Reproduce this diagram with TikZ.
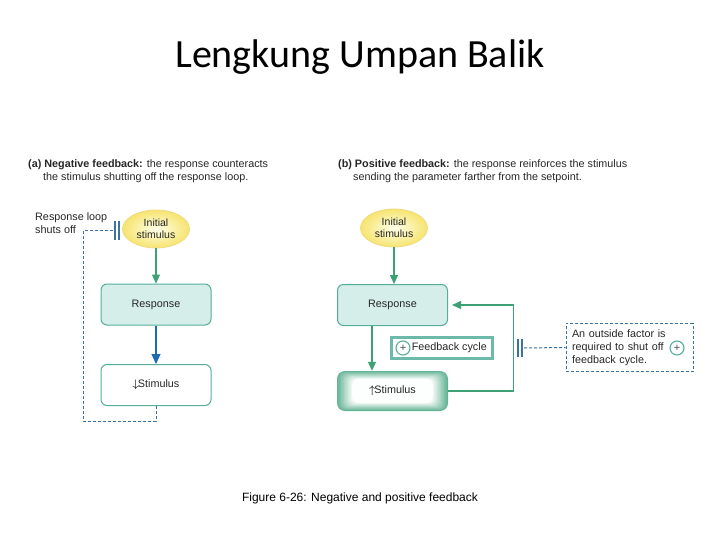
\documentclass[tikz,border=0pt]{standalone}
\usepackage{amsmath}
\usepackage{fontspec}
\setmainfont{Liberation Sans}
\newfontfamily\titlefont{Carlito}
\usetikzlibrary{arrows.meta,shapes,positioning,calc}

\definecolor{tealline}{HTML}{55AE9B}
\definecolor{respfill}{HTML}{D5EEE9}
\definecolor{flowgreen}{HTML}{3DA173}
\definecolor{flowblue}{HTML}{1D6AAE}
\definecolor{dashblue}{HTML}{3A72A4}
\definecolor{stimyellow}{HTML}{F6E46E}
\definecolor{stimline}{HTML}{EEDB86}
\definecolor{stimgreen}{HTML}{62B394}

\tikzset{
  initial/.style={ellipse,draw=stimline,line width=0.8pt,inner color=yellow!8,outer color=stimyellow,
    minimum width=67pt,minimum height=38pt,inner sep=0pt,align=center,font=\fontsize{10.5}{12}\selectfont},
  respbox/.style={draw=tealline,line width=1pt,rounded corners=6pt,minimum width=110pt,minimum height=41pt},
  flow/.style={flowgreen,line width=1.2pt,-{Triangle[length=9pt,width=8pt]}},
  shut/.style={dashblue,line width=1pt,dash pattern=on 3pt off 2pt},
  cutbar/.style={dashblue,line width=1.1pt},
  plus/.style={circle,draw=tealline,line width=1.1pt,text=black!70,minimum size=14pt,inner sep=0pt,font=\fontsize{11}{11}\selectfont}
}

\begin{document}
\begin{tikzpicture}[x=1pt,y=-1pt,font=\fontsize{10.8}{13}\selectfont,text=black!85]
  \useasboundingbox (0,0) rectangle (720,540);

  % Title
  \node[anchor=base,font=\titlefont\fontsize{40}{46}\selectfont,text=black] (title) at (360,68) {Lengkung Umpan Balik};

  % (a) negative feedback
  \node[anchor=north west,inner sep=0pt,align=left] (headA) at (28,159)
    {\textbf{(a) Negative feedback:} the response counteracts\\\hspace*{15pt}the stimulus shutting off the response loop.};
  \node[initial] (initA) at (156,229) {Initial\\stimulus};
  \node[respbox,fill=respfill] (respA) at (156,304.5) {Response};
  \node[respbox,fill=white] (stimA) at (156,385) {$\boldsymbol{\downarrow}$\hspace{-1pt}Stimulus};
  \node[anchor=north west,inner sep=0pt,align=left] (offA) at (35,212) {Response loop\\shuts off};
  \coordinate (cutA) at (113,231);

  \draw[flow] (initA) -- (respA);
  \draw[flowblue,line width=1.2pt,-{Triangle[length=10pt,width=9pt]}] (respA) -- (stimA);
  \draw[shut] (stimA.south) -- ++(0,15) -| (83,231) -- (cutA);
  \draw[cutbar] ($(cutA)+(2,-10)$) -- ++(0,19);
  \draw[cutbar] ($(cutA)+(6,-10)$) -- ++(0,19);

  % (b) positive feedback
  \node[anchor=north west,inner sep=0pt,align=left] (headB) at (338,159)
    {\textbf{(b) Positive feedback:} the response reinforces the stimulus\\\hspace*{15pt}sending the parameter farther from the setpoint.};
  \node[initial] (initB) at (394,228) {Initial\\stimulus};
  \node[respbox,fill=respfill] (respB) at (392.5,305) {Response};
  \node[rounded corners=8pt,fill=stimgreen,minimum width=111pt,minimum height=40pt] (stimB) at (392.5,391) {};
  \foreach \k [evaluate=\k as \pct using 100-\k*9] in {1,...,11}
    \fill[stimgreen!\pct!white,rounded corners=6pt] ($(stimB.south west)+(\k*1.4,-\k*0.75)$) rectangle ($(stimB.north east)+(-\k*1.4,\k*0.75)$);
  \node (stimBtxt) at (stimB.center) {$\boldsymbol{\uparrow}$\hspace{-1pt}Stimulus};

  \node[draw=tealline!85,line width=3pt,minimum width=101pt,minimum height=21pt] (cycle) at (442,348) {};
  \node[plus] (plusB) at (403,348) {+};
  \node[anchor=west,inner sep=1pt] (cycletxt) at (plusB.east) {Feedback cycle};

  \node[draw=dashblue,line width=1pt,dash pattern=on 3pt off 2pt,minimum width=127pt,minimum height=45pt,
    text width=115pt,inner sep=6pt,align=left] (outside) at (629.5,347.5)
    {An outside factor is\\required to shut off\\feedback cycle.};
  \node[plus] (plusOut) at (677,348) {+};
  \coordinate (cutB) at (518,348);

  \draw[flow] (initB) -- (initB |- respB.north);
  \draw[flow] ($(respB.south)+(-20.5,0)$) -- ($(stimB.north)+(-20.5,0)$);
  \draw[flow,shorten >=4pt] (stimB.east) -- ++(65,0) |- (respB.east);
  \draw[cutbar] ($(cutB)+(0,-9)$) -- ++(0,18);
  \draw[cutbar] ($(cutB)+(4,-9)$) -- ++(0,18);
  \draw[shut] ($(cutB)+(6,0)$) -- (outside.west);

  % Caption
  \node[font=\fontsize{12}{14}\selectfont,text=black] (caption) at (360,498) {Figure 6-26: Negative and positive feedback};
\end{tikzpicture}
\end{document}
